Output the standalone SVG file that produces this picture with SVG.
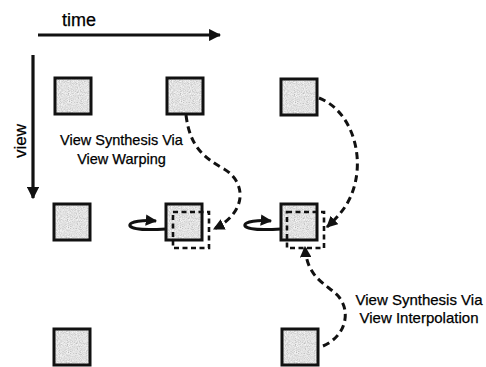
<svg xmlns="http://www.w3.org/2000/svg" width="486" height="367" viewBox="0 0 486 367">
<style>
.lbl{font-family:"Liberation Sans",Arial,sans-serif;fill:#000;stroke:#000;stroke-width:0.25}
.sq-fill{fill:#b8b8b8}
.sq-edge{fill:none;stroke:#111;stroke-width:3}
.dash{fill:none;stroke:#111;stroke-width:3;stroke-dasharray:7,4.5}
.box{fill:none;stroke:#111;stroke-width:2.6;stroke-dasharray:5,3.5}
.axis{fill:none;stroke:#111;stroke-width:3.2}
.loop{fill:none;stroke:#111;stroke-width:3}
</style>
<defs>
<filter id="grain" x="0" y="0" width="1" height="1">
<feTurbulence type="fractalNoise" baseFrequency="1.1" numOctaves="1" seed="4" result="n"/>
<feColorMatrix in="n" type="matrix" values="0.5 0.5 0 0 0.25  0.5 0.5 0 0 0.25  0.5 0.5 0 0 0.25  0 0 0 0 1" result="g"/>
<feComposite in="g" in2="SourceGraphic" operator="in"/>
</filter>
<marker id="ah" viewBox="0 0 10 10" refX="9" refY="5" markerWidth="3.8" markerHeight="3.8" orient="auto" markerUnits="strokeWidth">
<path d="M0,0 L10,5 L0,10 Z" fill="#111"/>
</marker>
<marker id="ahs" viewBox="0 0 10 10" refX="9" refY="5" markerWidth="3.8" markerHeight="3.8" orient="auto" markerUnits="strokeWidth">
<path d="M0,0 L10,5 L0,10 Z" fill="#111"/>
</marker>
<g id="sq">
<rect x="0" y="0" width="36" height="36" class="sq-fill" filter="url(#grain)"/>
<rect x="0" y="0" width="36" height="36" class="sq-edge"/>
</g>
</defs>
<rect width="486" height="367" fill="#fff"/>

<g id="axes">
<line x1="38" y1="35" x2="220" y2="35" class="axis" marker-end="url(#ahs)"/>
<line x1="33" y1="55" x2="33" y2="198" class="axis" marker-end="url(#ahs)"/>
<text class="lbl" x="62" y="26" font-size="18">time</text>
<text class="lbl" font-size="17" transform="translate(26,158) rotate(-90)">view</text>
</g>

<g id="n11"><use href="#sq" x="55" y="78"/></g>
<g id="n12"><use href="#sq" x="167" y="78"/></g>
<g id="n13"><use href="#sq" x="281" y="79"/></g>
<g id="n21"><use href="#sq" x="54" y="204"/></g>
<g id="n22"><use href="#sq" x="166" y="204"/>
<rect x="173" y="212" width="36" height="36" class="box"/></g>
<g id="n23"><use href="#sq" x="281" y="204"/>
<rect x="287" y="212" width="37" height="36" class="box"/></g>
<g id="n31"><use href="#sq" x="54" y="329"/></g>
<g id="n33"><use href="#sq" x="282" y="329"/></g>

<g id="connectors">
<path class="dash" d="M186,115 C190,148 205,158 224,169 C246,182 248,212 214,229" marker-end="url(#ah)"/>
<path class="dash" d="M319,98 C345,108 360,140 357,172 C354,200 341,214 327,227" marker-end="url(#ah)"/>
<path class="dash" d="M323,346 C346,336 351,312 339,297 C328,284 307,280 305,247" marker-end="url(#ah)"/>
<path class="loop" d="M166,229 C150,230 133,230 130,226 C128,221 145,220 156,221" marker-end="url(#ah)"/>
<path class="loop" d="M281,229 C265,230 248,230 245,226 C243,221 260,220 271,221" marker-end="url(#ah)"/>
</g>

<g id="labels">
<text class="lbl" x="121.5" y="145" font-size="14.5" text-anchor="middle">View Synthesis Via</text>
<text class="lbl" x="121.5" y="164" font-size="14.5" text-anchor="middle">View Warping</text>
<text class="lbl" x="419" y="305" font-size="15" text-anchor="middle">View Synthesis Via</text>
<text class="lbl" x="419" y="323" font-size="15" text-anchor="middle">View Interpolation</text>
</g>
</svg>
